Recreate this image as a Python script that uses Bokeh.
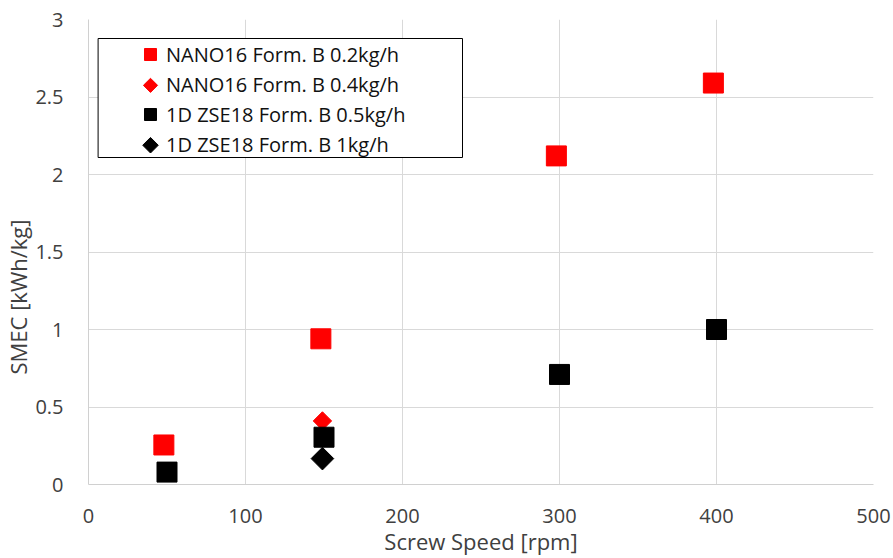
import math
from bokeh.plotting import figure
from bokeh.models import FixedTicker, Legend, LegendItem, Range1d, BoxAnnotation, Title
from bokeh.embed import file_html
from bokeh.resources import INLINE

# Data
nano_02_x = [48, 148, 298, 398]
nano_02_y = [0.255, 0.94, 2.12, 2.59]
nano_04_x = [149]
nano_04_y = [0.41]
zse_05_x = [50, 150, 300, 400]
zse_05_y = [0.08, 0.305, 0.71, 1.0]
zse_1_x = [149]
zse_1_y = [0.167]
labels = ["NANO16 Form. B 0.2kg/h", "NANO16 Form. B 0.4kg/h",
          "1D ZSE18 Form. B 0.5kg/h", "1D ZSE18 Form. B 1kg/h"]
x_ticks = [0, 100, 200, 300, 400, 500]
y_ticks = [0, 0.5, 1, 1.5, 2, 2.5, 3]
x_title = "Screw Speed [rpm]"
y_title = "SMEC [kWh/kg]"

FONT = "Open Sans"
W, H = 893, 558
BL, BR, BT, BB = 88, 20, 19, 73
FW, FH = W - BL - BR, H - BT - BB

p = figure(width=W, height=H, output_backend="svg", toolbar_location=None,
           x_range=Range1d(0, 500), y_range=Range1d(0, 3),
           min_border_left=BL, min_border_right=BR, min_border_top=BT, min_border_bottom=BB)
p.outline_line_color = None
p.background_fill_color = "white"
p.border_fill_color = "white"
# pixel ranges for legend swatches
p.extra_x_ranges = {"px": Range1d(0, FW)}
p.extra_y_ranges = {"py": Range1d(0, FH)}

r1 = p.scatter(nano_02_x, nano_02_y, marker="square", size=20, color="#ff0000")
r2 = p.scatter(nano_04_x, nano_04_y, marker="square", angle=math.pi / 4, size=13, color="#ff0000")
r3 = p.scatter(zse_05_x, zse_05_y, marker="square", size=20, color="#000000")
r4 = p.scatter(zse_1_x, zse_1_y, marker="square", angle=math.pi / 4, size=16, color="#000000")
# invisible stand-ins for the diamond legend rows
blank = p.scatter([], [], marker="square", size=1, fill_alpha=0, line_alpha=0)

for ax in (p.xaxis[0], p.yaxis[0]):
    ax.major_tick_line_color = None
    ax.minor_tick_line_color = None
    ax.axis_line_color = "#d0d0d0"
    ax.major_label_text_font = FONT
    ax.major_label_text_font_size = "20px"
    ax.major_label_text_color = "#404040"
    ax.axis_label_text_font = FONT
    ax.axis_label_text_font_size = "22px"
    ax.axis_label_text_font_style = "normal"
    ax.axis_label_text_color = "#404040"

p.xaxis.ticker = FixedTicker(ticks=x_ticks)
p.yaxis.ticker = FixedTicker(ticks=y_ticks)
p.xaxis.axis_label = x_title
p.xaxis.major_label_standoff = 18
p.xaxis.axis_label_standoff = 0
p.yaxis.major_label_standoff = 19

p.xgrid.ticker = FixedTicker(ticks=x_ticks)
p.ygrid.ticker = FixedTicker(ticks=y_ticks)
p.grid.grid_line_color = "#d9d9d9"
p.grid.grid_line_width = 1

# y axis title, placed lower than centre like the reference
ytitle = Title(text=y_title, align="left", offset=110, text_font=FONT,
               text_font_size="22px", text_font_style="normal", text_color="#404040",
               standoff=0, text_line_height=0.75)
p.add_layout(ytitle, "left")

# legend frame
box = BoxAnnotation(left=9.6, right=374, bottom=327, top=446,
                    left_units="screen", right_units="screen",
                    bottom_units="screen", top_units="screen",
                    fill_color="white", fill_alpha=1.0,
                    line_color="black", line_width=1, line_alpha=1.0)
p.add_layout(box)

LEG_X, LEG_Y, ROW, GLW = 47, 325, 30, 30
legend = Legend(items=[LegendItem(label=labels[0], renderers=[r1]),
                       LegendItem(label=labels[1], renderers=[blank]),
                       LegendItem(label=labels[2], renderers=[r3]),
                       LegendItem(label=labels[3], renderers=[blank])])
legend.border_line_color = None
legend.background_fill_alpha = 0
legend.label_text_font = FONT
legend.label_text_font_size = "20px"
legend.label_text_color = "#111111"
legend.glyph_width = GLW
legend.glyph_height = ROW
legend.label_height = ROW
legend.spacing = 0
legend.padding = 0
legend.margin = 0
legend.label_standoff = 1
p.add_layout(legend, "center")
legend.location = (LEG_X, LEG_Y)

# diamond swatches for legend rows 2 and 4 (legend ignores marker angle)
sw_x = LEG_X + GLW / 2
row_center = lambda i: LEG_Y + (4 - i - 0.5) * ROW
p.scatter([sw_x], [row_center(1)], marker="square", angle=math.pi / 4, size=10,
          color="#ff0000", x_range_name="px", y_range_name="py", level="overlay")
p.scatter([sw_x], [row_center(3)], marker="square", angle=math.pi / 4, size=11,
          color="#000000", x_range_name="px", y_range_name="py", level="overlay")

open("out.html", "w").write(file_html(p, INLINE))
